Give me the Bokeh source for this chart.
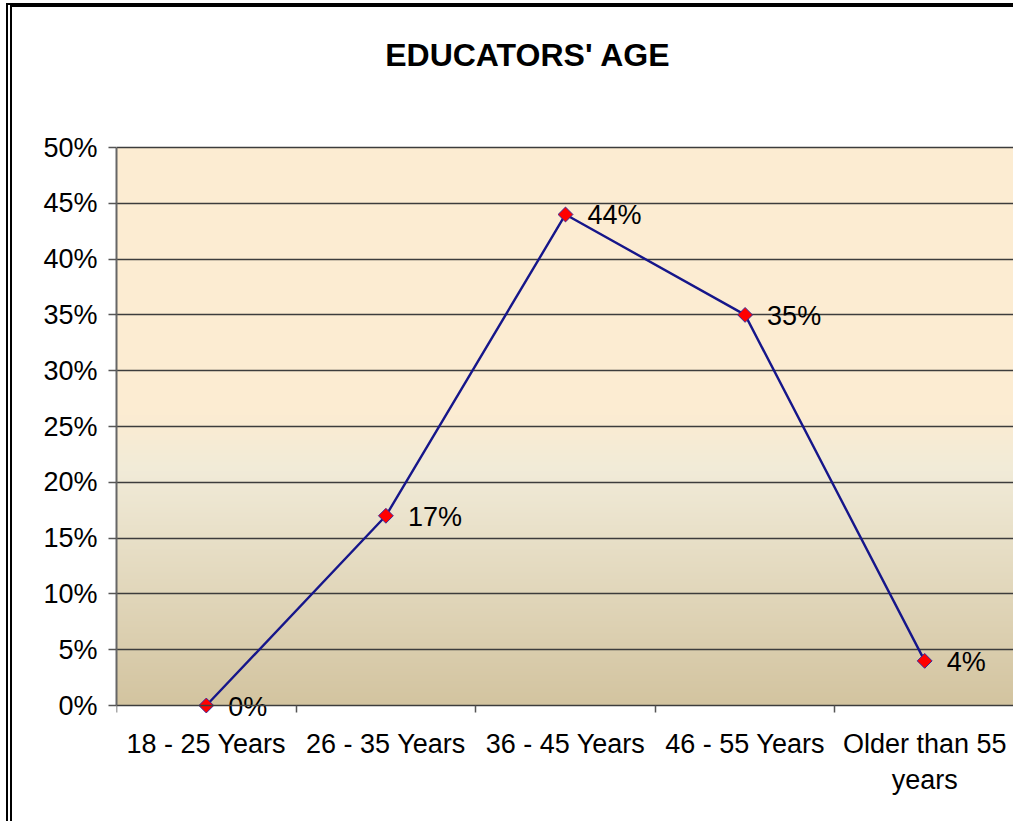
import numpy as np
from bokeh.plotting import figure
from bokeh.models import Range1d, FixedTicker, NumeralTickFormatter, ColumnDataSource, Label
from bokeh.core.properties import value
from bokeh.embed import file_html
from bokeh.resources import INLINE

# ---- data ----
categories = ["18 - 25 Years", "26 - 35 Years", "36 - 45 Years", "46 - 55 Years", "Older than 55\nyears"]
percent_values = [0, 17, 44, 35, 4]
y_ticks = [0.0, 0.05, 0.10, 0.15, 0.20, 0.25, 0.30, 0.35, 0.40, 0.45, 0.50]
title_text = "EDUCATORS' AGE"

FONT = "Liberation Sans"

xs = [i + 0.5 for i in range(len(categories))]
ys = [v / 100 for v in percent_values]
labels = [f"{v}%" for v in percent_values]
src = ColumnDataSource(dict(x=xs, y=ys, label=labels))

# the frame is taller than the 0..50% plot area: white strips above (title)
# and below (category labels) so nothing gets clipped
Y_MAX = 0.6165
Y_MIN = -0.09855

p = figure(width=1007, height=818, output_backend="svg", toolbar_location=None,
           x_range=Range1d(0, len(categories)), y_range=Range1d(Y_MIN, Y_MAX),
           min_border_left=104, min_border_right=5, min_border_top=10, min_border_bottom=10,
           background_fill_color="white", border_fill_color="white",
           styles={"border-top": "4px solid #000", "border-left": "6px double #000",
                   "margin-top": "3px", "margin-left": "6px"})
p.outline_line_color = None

# gradient background of plot area (0 .. 50%)
stops_t = [0.0, 0.48, 0.58, 1.0]
stops_c = [(253, 237, 211), (252, 236, 210), (241, 235, 216), (211, 196, 160)]
N = 558
t = np.linspace(1.0, 0.0, N)  # row 0 = bottom
img = np.zeros((N, 1), dtype=np.uint32)
view = img.view(dtype=np.uint8).reshape((N, 1, 4))
for ch in range(3):
    view[:, 0, ch] = np.interp(t, stops_t, [c[ch] for c in stops_c]).astype(np.uint8)
view[:, 0, 3] = 255
p.image_rgba(image=[img], x=0, y=0, dw=len(categories), dh=0.5, level="image")

# grid
p.xgrid.grid_line_color = None
p.ygrid.ticker = FixedTicker(ticks=y_ticks[1:])
p.ygrid.grid_line_color = "#3c3c3c"
p.ygrid.grid_line_width = 1.5

# y axis
p.yaxis.ticker = FixedTicker(ticks=y_ticks)
p.yaxis.bounds = (0, 0.5)
p.yaxis.formatter = NumeralTickFormatter(format="0%")
p.yaxis.axis_line_color = "#666666"
p.yaxis.axis_line_width = 2
p.yaxis.major_tick_line_color = "#555555"
p.yaxis.major_tick_line_width = 1.5
p.yaxis.major_tick_out = 8
p.yaxis.major_tick_in = 0
p.yaxis.minor_tick_line_color = None
p.yaxis.major_label_text_font = FONT
p.yaxis.major_label_text_font_size = "27px"
p.yaxis.major_label_text_color = "black"
p.yaxis.major_label_standoff = 11

# x axis, drawn at y = 0
p.xaxis.fixed_location = 0
p.xaxis.ticker = FixedTicker(ticks=xs, minor_ticks=list(range(len(categories) + 1)))
p.xaxis.major_label_overrides = {x: c for x, c in zip(xs, categories)}
p.xaxis.axis_line_color = "#3c3c3c"
p.xaxis.axis_line_width = 1.5
p.xaxis.major_tick_line_color = None
p.xaxis.minor_tick_line_color = "#555555"
p.xaxis.minor_tick_line_width = 1.5
p.xaxis.minor_tick_out = 7
p.xaxis.minor_tick_in = 0
p.xaxis.major_label_text_font = FONT
p.xaxis.major_label_text_font_size = "27px"
p.xaxis.major_label_text_color = "black"
p.xaxis.major_label_standoff = 16

# line and markers
p.line("x", "y", source=src, line_color="#16168a", line_width=2.4)
p.scatter("x", "y", source=src, marker="square", angle=np.pi / 4, size=10.5,
          fill_color="#ff0000", line_color="#3a2a9a", line_width=1)

# data labels
p.text("x", "y", text="label", source=src, x_offset=22, y_offset=1,
       text_font=value(FONT), text_font_size="27px", text_color="black",
       text_baseline="middle", text_align="left")

# chart title
p.add_layout(Label(x=2.291, y=0.5833, text=title_text, text_font=FONT,
                   text_font_size="32px", text_font_style="bold", text_color="black",
                   text_align="center", text_baseline="middle"))

open("out.html", "w").write(file_html(p, INLINE))
